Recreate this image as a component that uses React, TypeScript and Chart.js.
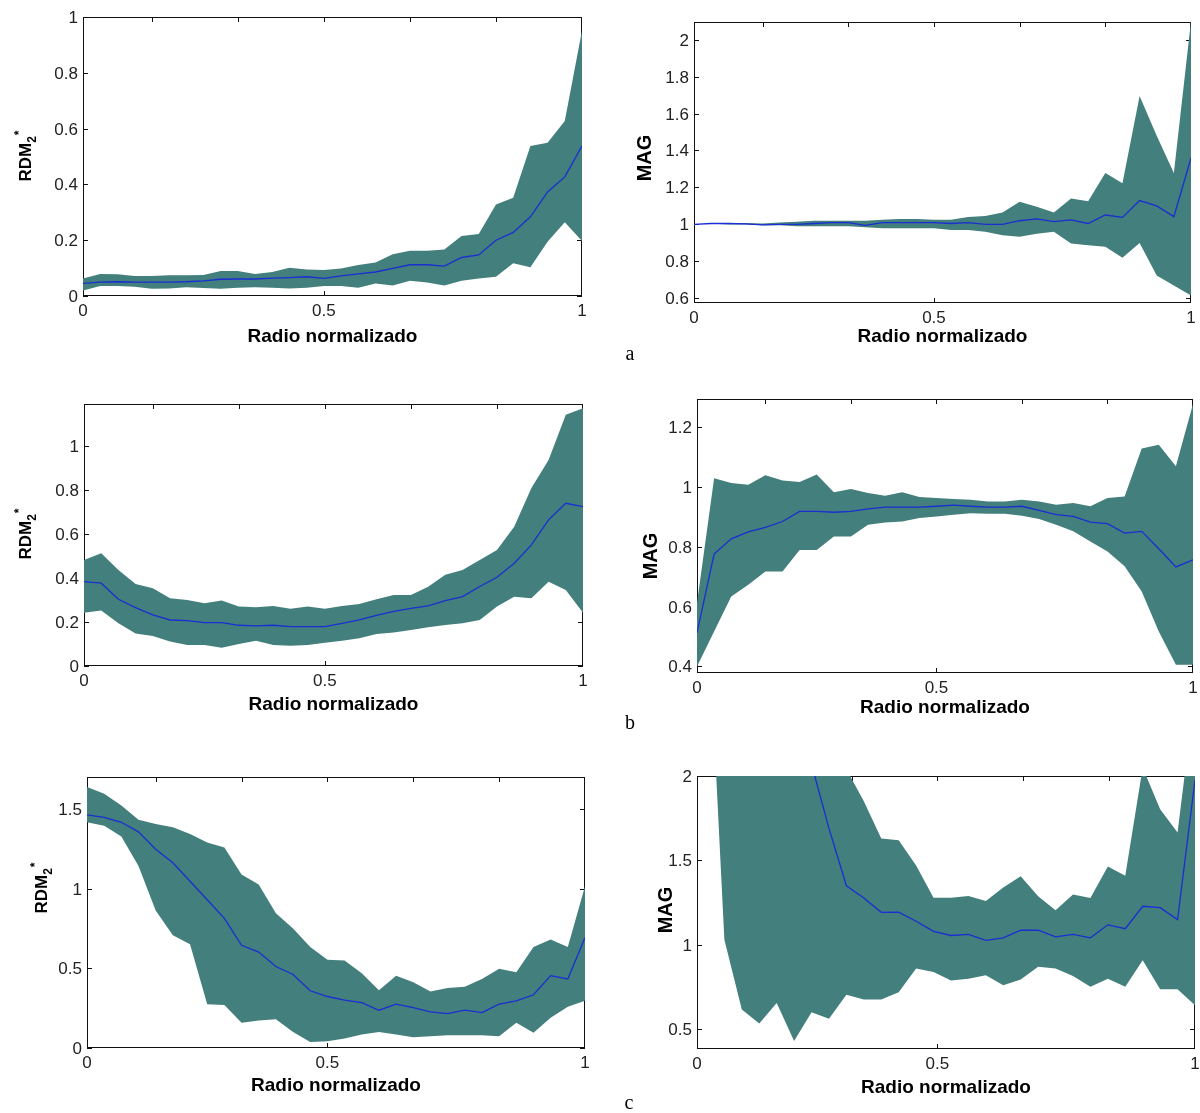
import React, { useEffect, useRef } from 'react';
import { Chart, registerables } from 'chart.js';
Chart.register(...registerables);

// ---------- shared x grids and ticks ----------
const xGrid = [0, 0.0345, 0.069, 0.1034, 0.1379, 0.1724, 0.2069, 0.2414, 0.2759, 0.3103, 0.3448, 0.3793, 0.4138, 0.4483, 0.4828, 0.5172, 0.5517, 0.5862, 0.6207, 0.6552, 0.6897, 0.7241, 0.7586, 0.7931, 0.8276, 0.8621, 0.8966, 0.931, 0.9655, 1];
const xGridC2 = [-0.015, 0.02, 0.055, 0.09, 0.125, 0.16, 0.195, 0.23, 0.265, 0.3, 0.335, 0.37, 0.405, 0.44, 0.475, 0.51, 0.545, 0.58, 0.615, 0.65, 0.685, 0.72, 0.755, 0.79, 0.825, 0.86, 0.895, 0.93, 0.965, 1];
const xTickVals = [0, 0.4828, 1];
const xTickLabels = ['0', '0.5', '1'];
const xTopTicks = [0.1379, 0.3103, 0.4828, 0.6552, 0.8276];
const xBottomTicks = [0.4828];
const xTitle = 'Radio normalizado';

// ---------- panel a (left): RDM ----------
const aLUpper = [0.063, 0.079, 0.078, 0.072, 0.072, 0.074, 0.074, 0.075, 0.09, 0.09, 0.079, 0.086, 0.101, 0.095, 0.093, 0.099, 0.111, 0.12, 0.15, 0.162, 0.162, 0.167, 0.215, 0.222, 0.328, 0.352, 0.538, 0.549, 0.627, 0.952];
const aLMean = [0.045, 0.05, 0.051, 0.05, 0.05, 0.05, 0.051, 0.054, 0.06, 0.061, 0.061, 0.064, 0.066, 0.069, 0.063, 0.072, 0.079, 0.086, 0.099, 0.112, 0.112, 0.107, 0.138, 0.147, 0.2, 0.228, 0.284, 0.373, 0.427, 0.538];
const aLLower = [0.02, 0.036, 0.036, 0.033, 0.026, 0.027, 0.031, 0.029, 0.026, 0.03, 0.031, 0.03, 0.027, 0.03, 0.036, 0.036, 0.03, 0.045, 0.038, 0.055, 0.048, 0.038, 0.055, 0.063, 0.069, 0.117, 0.103, 0.194, 0.264, 0.197];
const aLTicks = [0, 0.2, 0.4, 0.6, 0.8, 1];
const aLTickLabels = ['0', '0.2', '0.4', '0.6', '0.8', '1'];

// ---------- panel a (right): MAG ----------
const aRUpper = [1.0, 1.005, 1.005, 1.008, 1.005, 1.01, 1.015, 1.02, 1.02, 1.02, 1.02, 1.025, 1.03, 1.03, 1.025, 1.025, 1.04, 1.045, 1.065, 1.123, 1.096, 1.065, 1.14, 1.125, 1.278, 1.223, 1.695, 1.48, 1.278, 2.1];
const aRMean = [1.0, 1.005, 1.005, 1.003, 0.998, 1.0, 1.0, 1.005, 1.01, 1.01, 0.995, 1.01, 1.01, 1.01, 1.01, 1.005, 1.01, 1.0, 1.0, 1.02, 1.03, 1.015, 1.025, 1.005, 1.051, 1.038, 1.129, 1.1, 1.042, 1.36];
const aRLower = [1.0, 1.005, 1.0, 1.0, 0.995, 0.995, 0.99, 0.99, 0.99, 0.99, 0.985, 0.98, 0.98, 0.98, 0.98, 0.97, 0.97, 0.96, 0.942, 0.933, 0.95, 0.96, 0.897, 0.888, 0.879, 0.82, 0.9, 0.724, 0.67, 0.615];
const aRTicks = [0.6, 0.8, 1, 1.2, 1.4, 1.6, 1.8, 2];
const aRTickLabels = ['0.6', '0.8', '1', '1.2', '1.4', '1.6', '1.8', '2'];

// ---------- panel b (left): RDM ----------
const bLUpper = [0.482, 0.512, 0.436, 0.373, 0.353, 0.308, 0.3, 0.285, 0.297, 0.27, 0.267, 0.273, 0.26, 0.27, 0.26, 0.273, 0.282, 0.303, 0.323, 0.323, 0.36, 0.414, 0.436, 0.482, 0.527, 0.633, 0.808, 0.936, 1.141, 1.171];
const bLMean = [0.383, 0.376, 0.303, 0.265, 0.232, 0.209, 0.206, 0.197, 0.197, 0.185, 0.182, 0.185, 0.179, 0.179, 0.179, 0.194, 0.209, 0.23, 0.248, 0.262, 0.273, 0.297, 0.315, 0.361, 0.403, 0.467, 0.55, 0.664, 0.739, 0.724];
const bLLower = [0.242, 0.252, 0.194, 0.148, 0.136, 0.111, 0.095, 0.095, 0.083, 0.1, 0.115, 0.095, 0.092, 0.095, 0.106, 0.115, 0.126, 0.145, 0.152, 0.164, 0.176, 0.186, 0.194, 0.209, 0.27, 0.315, 0.308, 0.383, 0.345, 0.242];
const bLTicks = [0, 0.2, 0.4, 0.6, 0.8, 1];
const bLTickLabels = ['0', '0.2', '0.4', '0.6', '0.8', '1'];

// ---------- panel b (right): MAG ----------
const bRUpper = [0.612, 1.03, 1.014, 1.008, 1.04, 1.022, 1.017, 1.042, 0.983, 0.994, 0.98, 0.971, 0.983, 0.967, 0.964, 0.96, 0.958, 0.952, 0.952, 0.958, 0.952, 0.941, 0.947, 0.936, 0.964, 0.969, 1.129, 1.142, 1.07, 1.278];
const bRMean = [0.512, 0.776, 0.827, 0.85, 0.865, 0.885, 0.919, 0.919, 0.916, 0.919, 0.927, 0.933, 0.933, 0.933, 0.936, 0.94, 0.936, 0.933, 0.933, 0.936, 0.922, 0.908, 0.902, 0.883, 0.878, 0.846, 0.852, 0.794, 0.733, 0.757];
const bRLower = [0.4, 0.517, 0.634, 0.673, 0.718, 0.718, 0.79, 0.79, 0.835, 0.835, 0.874, 0.882, 0.885, 0.897, 0.902, 0.908, 0.913, 0.911, 0.911, 0.904, 0.893, 0.874, 0.852, 0.818, 0.785, 0.735, 0.651, 0.517, 0.406, 0.406];
const bRTicks = [0.4, 0.6, 0.8, 1, 1.2];
const bRTickLabels = ['0.4', '0.6', '0.8', '1', '1.2'];

// ---------- panel c (left): RDM ----------
const cLUpper = [1.637, 1.595, 1.521, 1.432, 1.405, 1.384, 1.342, 1.289, 1.257, 1.088, 1.025, 0.845, 0.75, 0.634, 0.554, 0.549, 0.469, 0.363, 0.454, 0.412, 0.355, 0.376, 0.385, 0.433, 0.497, 0.475, 0.634, 0.68, 0.634, 1.014];
const cLMean = [1.462, 1.447, 1.416, 1.356, 1.247, 1.162, 1.046, 0.93, 0.813, 0.644, 0.602, 0.511, 0.461, 0.359, 0.323, 0.3, 0.285, 0.237, 0.275, 0.254, 0.226, 0.216, 0.237, 0.222, 0.275, 0.296, 0.334, 0.454, 0.433, 0.693];
const cLLower = [1.416, 1.394, 1.327, 1.141, 0.862, 0.708, 0.651, 0.275, 0.27, 0.158, 0.173, 0.18, 0.101, 0.038, 0.042, 0.059, 0.085, 0.101, 0.085, 0.068, 0.074, 0.08, 0.08, 0.08, 0.074, 0.158, 0.095, 0.19, 0.258, 0.296];
const cLTicks = [0, 0.5, 1, 1.5];
const cLTickLabels = ['0', '0.5', '1', '1.5'];

// ---------- panel c (right): MAG ----------
const cRUpper = [4.5, 4.5, 4.5, 4.5, 4.5, 4.5, 4.5, 4.5, 2.3, 2.04, 1.85, 1.63, 1.62, 1.47, 1.28, 1.28, 1.29, 1.26, 1.34, 1.406, 1.288, 1.205, 1.298, 1.278, 1.465, 1.41, 2.05, 1.803, 1.666, 2.5];
const cRMean = [3.8, 3.6, 3.4, 3.2, 3.0, 2.8, 2.5, 2.07, 1.69, 1.35, 1.278, 1.193, 1.194, 1.14, 1.08, 1.056, 1.062, 1.027, 1.042, 1.087, 1.087, 1.048, 1.062, 1.042, 1.119, 1.096, 1.229, 1.221, 1.15, 1.976];
const cRLower = [4.2, 3.1, 1.03, 0.618, 0.535, 0.657, 0.431, 0.602, 0.563, 0.705, 0.677, 0.677, 0.72, 0.86, 0.84, 0.79, 0.8, 0.82, 0.761, 0.796, 0.871, 0.86, 0.816, 0.753, 0.8, 0.753, 0.91, 0.737, 0.737, 0.643];
const cRTicks = [0.5, 1, 1.5, 2];
const cRTickLabels = ['0.5', '1', '1.5', '2'];

// ---------- styling ----------
const BAND = '#437f7c';
const LINE = '#1a2ed2';
const SANS = '"Liberation Sans", Arial, sans-serif';

type Panel = {
  cx: number; cy: number; cw: number; ch: number;
  L: number; R: number; T: number; B: number;
  yMin: number; yMax: number;
  yTicks: number[]; yTickLabels: string[];
  xs: number[]; upper: number[]; mean: number[]; lower: number[];
  yTitle: { kind: 'rdm' | 'mag'; x: number; y: number };
  xTitleY: number;
  letter?: { text: string; x: number; y: number };
};

const panels: Panel[] = [
  { cx: 0, cy: 0, cw: 600, ch: 365, L: 83, R: 582, T: 17, B: 296, yMin: 0, yMax: 1,
    yTicks: aLTicks, yTickLabels: aLTickLabels, xs: xGrid, upper: aLUpper, mean: aLMean, lower: aLLower,
    yTitle: { kind: 'rdm', x: 25, y: 156 }, xTitleY: 335 },
  { cx: 600, cy: 0, cw: 600, ch: 365, L: 694, R: 1191, T: 22, B: 303, yMin: 0.575, yMax: 2.095,
    yTicks: aRTicks, yTickLabels: aRTickLabels, xs: xGrid, upper: aRUpper, mean: aRMean, lower: aRLower,
    yTitle: { kind: 'mag', x: 644, y: 158 }, xTitleY: 335, letter: { text: 'a', x: 630, y: 360 } },
  { cx: 0, cy: 375, cw: 600, ch: 360, L: 84, R: 583, T: 404, B: 666, yMin: 0, yMax: 1.19,
    yTicks: bLTicks, yTickLabels: bLTickLabels, xs: xGrid, upper: bLUpper, mean: bLMean, lower: bLLower,
    yTitle: { kind: 'rdm', x: 25, y: 534 }, xTitleY: 703 },
  { cx: 600, cy: 375, cw: 600, ch: 360, L: 697, R: 1193, T: 399, B: 673, yMin: 0.378, yMax: 1.295,
    yTicks: bRTicks, yTickLabels: bRTickLabels, xs: xGrid, upper: bRUpper, mean: bRMean, lower: bRLower,
    yTitle: { kind: 'mag', x: 650, y: 556 }, xTitleY: 706, letter: { text: 'b', x: 630, y: 729 } },
  { cx: 0, cy: 755, cw: 600, ch: 358, L: 87, R: 585, T: 777, B: 1048, yMin: 0, yMax: 1.7,
    yTicks: cLTicks, yTickLabels: cLTickLabels, xs: xGrid, upper: cLUpper, mean: cLMean, lower: cLLower,
    yTitle: { kind: 'rdm', x: 41, y: 888 }, xTitleY: 1084 },
  { cx: 600, cy: 755, cw: 600, ch: 358, L: 697, R: 1195, T: 776, B: 1049, yMin: 0.384, yMax: 2,
    yTicks: cRTicks, yTickLabels: cRTickLabels, xs: xGridC2, upper: cRUpper, mean: cRMean, lower: cRLower,
    yTitle: { kind: 'mag', x: 665, y: 910 }, xTitleY: 1086, letter: { text: 'c', x: 629, y: 1109 } },
];

function makeDecor(p: Panel) {
  return {
    id: 'decor',
    beforeDatasetsDraw(chart: any) {
      const { ctx, chartArea: a, scales } = chart;
      const xs = scales.x, ys = scales.y;
      ctx.save();
      ctx.strokeStyle = '#111';
      ctx.lineWidth = 1;
      ctx.strokeRect(a.left + 0.5, a.top + 0.5, a.right - a.left - 1, a.bottom - a.top - 1);
      const tl = 5;
      ctx.beginPath();
      p.yTicks.forEach((v) => {
        const y = Math.round(ys.getPixelForValue(v)) + 0.5;
        ctx.moveTo(a.left, y); ctx.lineTo(a.left + tl, y);
        ctx.moveTo(a.right, y); ctx.lineTo(a.right - tl, y);
      });
      xTopTicks.forEach((v) => {
        const x = Math.round(xs.getPixelForValue(v)) + 0.5;
        ctx.moveTo(x, a.top); ctx.lineTo(x, a.top + tl);
      });
      xBottomTicks.forEach((v) => {
        const x = Math.round(xs.getPixelForValue(v)) + 0.5;
        ctx.moveTo(x, a.bottom); ctx.lineTo(x, a.bottom - tl);
      });
      ctx.stroke();
      ctx.restore();
    },
    afterDraw(chart: any) {
      const { ctx, chartArea: a, scales } = chart;
      const xs = scales.x, ys = scales.y;
      ctx.save();
      ctx.fillStyle = '#222';
      ctx.font = `17px ${SANS}`;
      ctx.textBaseline = 'alphabetic';
      ctx.textAlign = 'right';
      p.yTicks.forEach((v, i) => {
        ctx.fillText(p.yTickLabels[i], a.left - 5, ys.getPixelForValue(v) + 6);
      });
      ctx.textAlign = 'center';
      xTickVals.forEach((v, i) => {
        ctx.fillText(xTickLabels[i], xs.getPixelForValue(v), a.bottom + 20);
      });
      ctx.fillStyle = '#000';
      ctx.font = `bold 19px ${SANS}`;
      ctx.fillText(xTitle, (a.left + a.right) / 2, p.xTitleY - p.cy + 7);

      // y title
      const tx = p.yTitle.x - p.cx, ty = p.yTitle.y - p.cy;
      ctx.save();
      ctx.translate(tx, ty);
      ctx.rotate(-Math.PI / 2);
      ctx.textAlign = 'left';
      if (p.yTitle.kind === 'mag') {
        ctx.font = `bold 20px ${SANS}`;
        const w = ctx.measureText('MAG').width;
        ctx.fillText('MAG', -w / 2, 7);
      } else {
        ctx.font = `bold 17px ${SANS}`;
        const w1 = ctx.measureText('RDM').width;
        ctx.font = `bold 12px ${SANS}`;
        const w2 = ctx.measureText('2').width;
        const w3 = ctx.measureText('*').width;
        const total = w1 + w2 + w3 + 1;
        let x0 = -total / 2;
        ctx.font = `bold 17px ${SANS}`;
        ctx.fillText('RDM', x0, 6);
        x0 += w1;
        ctx.font = `bold 12px ${SANS}`;
        ctx.fillText('2', x0, 11);
        x0 += w2 + 1;
        ctx.fillText('*', x0, -2);
      }
      ctx.restore();

      if (p.letter) {
        ctx.font = `20px "Liberation Serif", "Times New Roman", serif`;
        ctx.textAlign = 'center';
        ctx.fillStyle = '#000';
        ctx.fillText(p.letter.text, p.letter.x - p.cx, p.letter.y - p.cy);
      }
      ctx.restore();
    },
  };
}

function PanelChart({ p }: { p: Panel }) {
  const ref = useRef<HTMLCanvasElement | null>(null);
  useEffect(() => {
    if (!ref.current) return;
    const pts = (arr: number[]) => p.xs.map((x, i) => ({ x, y: arr[i] }));
    const chart = new Chart(ref.current, {
      type: 'line',
      data: {
        datasets: [
          { label: 'media', data: pts(p.mean), borderColor: LINE, borderWidth: 1.3, pointRadius: 0, fill: false, tension: 0, order: 0 } as any,
          { label: 'sup', data: pts(p.upper), borderColor: BAND, borderWidth: 0, pointRadius: 0, backgroundColor: BAND, fill: '+1', tension: 0, order: 1 } as any,
          { label: 'inf', data: pts(p.lower), borderColor: BAND, borderWidth: 0, pointRadius: 0, fill: false, tension: 0, order: 2 } as any,
        ],
      },
      options: {
        responsive: false,
        animation: false,
        devicePixelRatio: 1,
        events: [],
        layout: {
          padding: { left: p.L - p.cx, top: p.T - p.cy, right: p.cx + p.cw - p.R, bottom: p.cy + p.ch - p.B },
        },
        plugins: { legend: { display: false }, tooltip: { enabled: false } },
        scales: {
          x: { type: 'linear', display: false, min: 0, max: 1 },
          y: { type: 'linear', display: false, min: p.yMin, max: p.yMax },
        },
      },
      plugins: [makeDecor(p)],
    });
    return () => chart.destroy();
  }, [p]);
  return (
    <canvas
      ref={ref}
      width={p.cw}
      height={p.ch}
      style={{ position: 'absolute', left: p.cx, top: p.cy, width: p.cw, height: p.ch }}
    />
  );
}

export default function App() {
  return (
    <div style={{ position: 'absolute', left: 0, top: 0, width: 1200, height: 1113, background: '#fff', overflow: 'hidden' }}>
      {panels.map((p, i) => (
        <PanelChart key={i} p={p} />
      ))}
    </div>
  );
}
